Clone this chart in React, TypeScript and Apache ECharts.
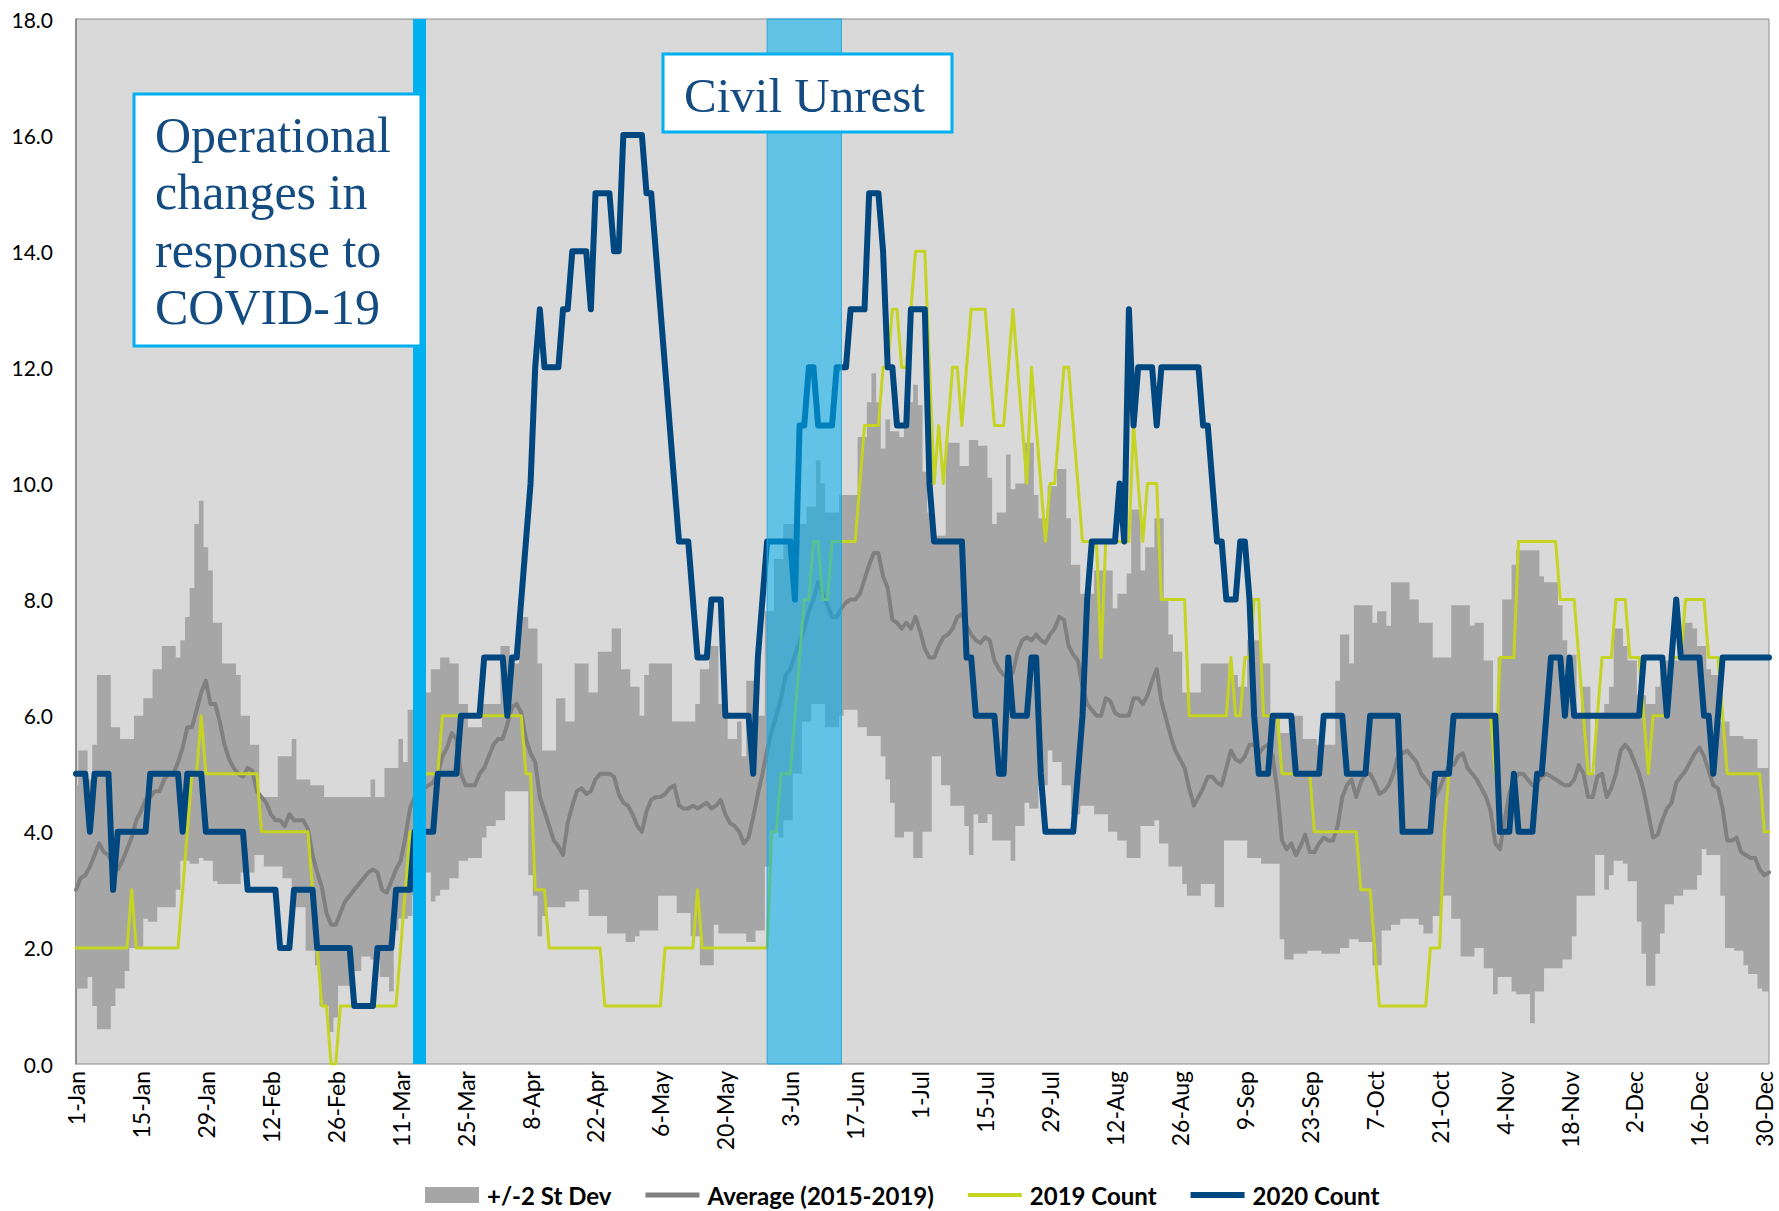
import React, { useEffect, useRef } from "react";
import * as echarts from "echarts";

// ---- categories (2020, daily) ----
const MONTHS = ["Jan", "Feb", "Mar", "Apr", "May", "Jun", "Jul", "Aug", "Sep", "Oct", "Nov", "Dec"];
const MONTH_DAYS_2020 = [31, 29, 31, 30, 31, 30, 31, 31, 30, 31, 30, 31];
const DATES: string[] = MONTHS.flatMap((m, i) =>
  Array.from({ length: MONTH_DAYS_2020[i] }, (_, k) => `${k + 1}-${m}`)
);
const N = DATES.length;

// ---- series values as [first day index, value] runs (daily step counts) ----
const COUNT_2020_RUNS = [
  [0, 5], [3, 4], [4, 5], [8, 3], [9, 4], [16, 5], [23, 4], [24, 5], [28, 4], [37, 3], [44, 2], [47, 3],
  [52, 2], [60, 1], [65, 2], [69, 3], [73, 4], [78, 5], [83, 6], [88, 7], [93, 6], [94, 7], [96, 8],
  [97, 9], [98, 10], [99, 12], [100, 13], [101, 12], [105, 13], [107, 14], [111, 13], [112, 15],
  [116, 14], [118, 16], [123, 15], [125, 14], [126, 13], [127, 12], [128, 11], [129, 10], [130, 9],
  [133, 8], [134, 7], [137, 8], [140, 6], [146, 5], [147, 7], [148, 8], [149, 9], [155, 8], [156, 11],
  [158, 12], [160, 11], [164, 12], [167, 13], [171, 15], [174, 14], [175, 12], [177, 11], [180, 13],
  [184, 10], [185, 9], [192, 7], [194, 6], [199, 5], [201, 7], [202, 6], [206, 7], [208, 5], [209, 4],
  [216, 5], [217, 6], [218, 8], [219, 9], [225, 10], [226, 9], [227, 13], [228, 11], [229, 12],
  [233, 11], [234, 12], [243, 11], [245, 10], [246, 9], [248, 8], [251, 9], [253, 8], [254, 6],
  [255, 5], [258, 6], [263, 5], [269, 6], [274, 5], [279, 6], [286, 4], [293, 5], [297, 6], [307, 4],
  [310, 5], [311, 4], [315, 5], [317, 6], [318, 7], [321, 6], [322, 7], [323, 6], [338, 7], [343, 6],
  [344, 7], [345, 8], [346, 7], [351, 6], [353, 5], [354, 6], [355, 7],
];

const COUNT_2019_RUNS = [
  [0, 2], [12, 3], [13, 2], [23, 3], [24, 4], [25, 5], [27, 6], [28, 5], [40, 4], [51, 3], [52, 2],
  [53, 1], [55, 0], [57, 1], [70, 2], [71, 3], [72, 4], [74, 5], [79, 6], [97, 5], [99, 3], [102, 2],
  [114, 1], [127, 2], [134, 3], [135, 2], [150, 4], [152, 5], [155, 6], [156, 7], [157, 8], [159, 9],
  [161, 8], [163, 9], [169, 10], [170, 11], [174, 12], [176, 13], [178, 12], [180, 13], [181, 14],
  [184, 12], [185, 10], [186, 11], [187, 10], [188, 11], [189, 12], [191, 11], [192, 12], [193, 13],
  [197, 12], [198, 11], [201, 12], [202, 13], [203, 12], [204, 11], [205, 10], [206, 12], [207, 11],
  [208, 10], [209, 9], [210, 10], [212, 11], [213, 12], [215, 11], [216, 10], [217, 9], [221, 7],
  [222, 9], [228, 11], [229, 10], [230, 9], [231, 10], [234, 8], [240, 6], [249, 7], [250, 6],
  [252, 7], [254, 8], [256, 6], [260, 5], [267, 4], [277, 3], [280, 2], [281, 1], [292, 2], [295, 4],
  [296, 5], [297, 6], [306, 5], [307, 7], [311, 9], [320, 8], [324, 7], [325, 6], [326, 5], [328, 6],
  [329, 7], [332, 8], [335, 7], [338, 6], [339, 5], [340, 6], [344, 7], [347, 8], [352, 7], [355, 6],
  [356, 5], [364, 4],
];

// +/-2 St Dev band edges, [first day index, value] runs
const UPPER_RUNS = [
  [0, 4.8], [1, 5.4], [3, 4.9], [4, 5.5], [5, 6.7], [8, 5.8], [10, 5.6], [13, 6.0], [15, 6.3], [17, 6.8],
  [19, 7.2], [22, 7.0], [23, 7.3], [24, 7.7], [25, 8.2], [26, 9.3], [27, 9.7], [28, 8.9], [29, 8.5],
  [30, 7.6], [32, 6.9], [35, 6.7], [36, 6.0], [38, 5.5], [40, 4.6], [44, 5.3], [47, 5.6], [48, 4.9],
  [51, 4.8], [54, 4.6], [64, 4.9], [65, 4.6], [67, 5.1], [70, 5.6], [71, 5.2], [72, 6.1], [74, 6.3],
  [75, 6.4], [77, 6.8], [79, 7.0], [81, 6.9], [83, 6.2], [85, 5.8], [88, 6.2], [92, 7.2], [94, 6.9],
  [96, 7.7], [98, 7.5], [100, 6.9], [101, 5.4], [104, 6.3], [106, 5.9], [108, 6.9], [111, 6.4],
  [113, 7.1], [116, 7.5], [118, 6.8], [120, 6.5], [122, 6.0], [123, 6.7], [124, 6.9], [129, 5.9],
  [134, 6.2], [135, 6.8], [137, 7.2], [139, 6.2], [141, 5.6], [143, 5.9], [144, 5.3], [145, 6.6],
  [147, 6.0], [149, 7.8], [151, 8.7], [153, 9.3], [158, 9.6], [160, 10.4], [161, 10.0], [162, 9.5],
  [165, 9.8], [169, 10.8], [171, 11.4], [172, 11.9], [173, 11.4], [174, 10.6], [175, 11.1], [176, 10.9],
  [178, 10.8], [179, 11.4], [181, 11.7], [182, 11.35], [183, 10.2], [184, 9.5], [185, 9.1], [188, 10.7],
  [191, 10.3], [193, 10.75], [195, 10.65], [197, 10.1], [198, 9.3], [199, 9.5], [201, 10.5], [202, 9.9],
  [203, 10.0], [205, 10.7], [207, 9.8], [208, 9.4], [210, 9.95], [212, 10.25], [214, 9.4], [215, 8.6],
  [217, 8.1], [220, 8.5], [224, 7.85], [225, 8.1], [227, 8.45], [228, 9.55], [230, 8.5], [231, 8.9],
  [233, 9.4], [235, 8.0], [236, 7.4], [237, 7.1], [239, 6.4], [243, 6.9], [249, 6.7], [251, 6.5],
  [253, 7.3], [256, 6.9], [258, 6.0], [260, 5.7], [262, 6.0], [265, 5.6], [268, 5.5], [272, 6.6],
  [273, 7.4], [275, 6.9], [276, 7.9], [280, 7.6], [281, 7.8], [283, 7.55], [284, 8.3], [288, 8.0],
  [290, 7.6], [293, 7.0], [297, 7.9], [301, 7.55], [302, 7.6], [304, 6.95], [306, 6.0], [307, 7.0],
  [308, 8.0], [310, 8.6], [311, 8.85], [316, 8.4], [317, 8.3], [320, 7.9], [321, 7.3], [322, 7.05],
  [324, 6.0], [325, 6.5], [327, 5.0], [328, 6.05], [330, 6.2], [331, 6.5], [332, 7.5], [334, 7.2],
  [335, 6.95], [337, 6.35], [339, 6.2], [341, 6.5], [342, 6.95], [346, 7.25], [347, 7.6], [349, 7.5],
  [350, 7.2], [352, 6.8], [353, 6.7], [355, 5.9], [357, 5.65], [360, 5.6], [363, 5.1],
];

const LOWER_RUNS = [
  [0, 1.3], [3, 1.5], [4, 1.0], [5, 0.6], [8, 1.0], [9, 1.3], [11, 1.6], [12, 2.0], [15, 2.5], [16, 2.45],
  [18, 2.7], [22, 3.0], [23, 3.5], [25, 3.45], [27, 3.55], [28, 3.5], [30, 3.15], [31, 3.1], [36, 3.3],
  [39, 3.6], [41, 3.4], [45, 3.2], [47, 2.7], [50, 1.95], [52, 1.7], [53, 1.0], [55, 0.55], [56, 0.8],
  [57, 1.35], [60, 1.6], [62, 1.85], [64, 1.8], [66, 1.5], [68, 1.25], [69, 2.3], [70, 2.5], [72, 2.55],
  [73, 2.9], [75, 3.3], [77, 2.8], [78, 2.9], [79, 3.0], [81, 3.2], [83, 3.5], [85, 3.55], [88, 3.9],
  [89, 4.1], [91, 4.2], [93, 4.7], [98, 3.25], [99, 2.9], [100, 2.2], [101, 2.55], [102, 2.7], [106, 2.8],
  [109, 3.0], [111, 2.55], [115, 2.25], [119, 2.1], [121, 2.2], [122, 2.3], [126, 2.9], [130, 2.6],
  [133, 2.2], [135, 1.7], [138, 2.4], [139, 2.25], [145, 2.1], [147, 2.3], [149, 3.4], [150, 4.0],
  [152, 3.9], [153, 4.2], [155, 5.0], [157, 5.9], [159, 6.2], [162, 5.8], [165, 6.0], [166, 6.1],
  [169, 5.8], [171, 5.65], [174, 5.3], [175, 4.9], [176, 4.5], [177, 3.9], [179, 4.0], [181, 3.55],
  [183, 4.0], [185, 5.3], [187, 4.8], [189, 4.45], [192, 4.1], [193, 3.6], [194, 4.3], [195, 4.15],
  [197, 4.3], [198, 3.85], [202, 3.5], [203, 4.1], [205, 4.5], [206, 4.4], [208, 4.8], [210, 5.4],
  [211, 5.2], [213, 4.8], [215, 4.3], [217, 4.45], [220, 4.3], [223, 4.0], [225, 3.85], [227, 3.55],
  [230, 4.1], [233, 4.2], [234, 3.8], [236, 3.4], [239, 3.1], [240, 2.9], [243, 3.1], [246, 2.7],
  [248, 3.85], [253, 3.55], [256, 3.45], [260, 2.15], [261, 1.8], [263, 1.9], [266, 1.95], [269, 1.9],
  [273, 2.0], [275, 2.15], [277, 2.1], [280, 1.7], [282, 2.3], [284, 2.4], [286, 2.5], [290, 2.4],
  [291, 2.25], [293, 2.55], [295, 2.9], [297, 2.5], [299, 1.85], [302, 2.0], [304, 1.65], [306, 1.2],
  [307, 1.5], [310, 1.25], [311, 1.2], [314, 0.7], [315, 1.25], [317, 1.65], [321, 1.8], [323, 2.2],
  [324, 2.9], [328, 3.6], [330, 3.0], [331, 3.25], [332, 3.5], [334, 3.45], [335, 3.15], [337, 2.45],
  [338, 1.9], [339, 1.35], [341, 1.9], [342, 2.25], [343, 2.75], [345, 2.9], [347, 3.0], [350, 3.25],
  [351, 3.7], [352, 3.6], [355, 2.9], [356, 2.0], [358, 1.95], [360, 1.7], [361, 1.55], [363, 1.3],
  [364, 1.25],
];

// Average (2015-2019), one value per day
const AVERAGE = [
  3.0, 3.2, 3.25, 3.4, 3.6, 3.8, 3.65, 3.6, 3.4, 3.35,
  3.5, 3.7, 3.9, 4.2, 4.35, 4.55, 4.6, 4.7, 4.7, 4.9,
  5.0, 5.0, 5.2, 5.45, 5.8, 5.8, 6.1, 6.4, 6.6, 6.2,
  6.2, 5.9, 5.5, 5.25, 5.1, 5.0, 4.95, 5.1, 5.05, 4.7,
  4.6, 4.5, 4.3, 4.2, 4.2, 4.1, 4.3, 4.2, 4.2, 4.2,
  4.05, 3.6, 3.3, 3.05, 2.6, 2.4, 2.4, 2.6, 2.8, 2.9,
  3.0, 3.1, 3.2, 3.3, 3.35, 3.3, 3.0, 2.95, 3.15, 3.35,
  3.5, 3.9, 4.4, 4.6, 4.7, 4.75, 4.8, 4.85, 5.0, 5.3,
  5.45, 5.7, 5.6, 5.0, 4.8, 4.8, 4.8, 5.0, 5.1, 5.3,
  5.5, 5.6, 5.6, 5.85, 6.15, 6.2, 6.05, 5.6, 5.35, 5.2,
  4.6, 4.35, 4.1, 3.85, 3.75, 3.6, 4.15, 4.45, 4.7, 4.75,
  4.65, 4.7, 4.9, 5.0, 5.0, 5.0, 4.95, 4.65, 4.5, 4.45,
  4.3, 4.1, 4.0, 4.35, 4.55, 4.6, 4.6, 4.65, 4.75, 4.8,
  4.45, 4.4, 4.4, 4.45, 4.4, 4.45, 4.5, 4.4, 4.45, 4.55,
  4.3, 4.15, 4.1, 4.0, 3.8, 3.9, 4.25, 4.65, 5.0, 5.4,
  5.75, 6.0, 6.3, 6.7, 6.8, 7.05, 7.25, 7.5, 7.8, 8.0,
  8.3, 8.1, 7.9, 7.7, 7.7, 7.85, 7.95, 8.0, 8.0, 8.1,
  8.35, 8.6, 8.8, 8.8, 8.4, 8.2, 7.65, 7.6, 7.5, 7.6,
  7.5, 7.7, 7.45, 7.15, 7.0, 7.0, 7.2, 7.35, 7.4, 7.5,
  7.7, 7.75, 7.55, 7.4, 7.3, 7.25, 7.35, 7.3, 6.95, 6.8,
  6.7, 6.65, 6.75, 7.1, 7.3, 7.35, 7.3, 7.4, 7.3, 7.25,
  7.4, 7.5, 7.7, 7.65, 7.2, 7.05, 6.95, 6.5, 6.2, 6.1,
  6.0, 6.0, 6.3, 6.25, 6.05, 6.0, 6.0, 6.0, 6.3, 6.3,
  6.2, 6.35, 6.6, 6.8, 6.25, 5.95, 5.65, 5.4, 5.25, 5.1,
  4.75, 4.45, 4.6, 4.75, 4.95, 4.95, 4.85, 4.8, 5.1, 5.4,
  5.25, 5.2, 5.3, 5.5, 5.5, 5.35, 5.45, 5.5, 5.3, 4.7,
  3.85, 3.7, 3.8, 3.6, 3.75, 3.95, 3.65, 3.65, 3.8, 3.9,
  3.85, 3.85, 4.1, 4.6, 4.8, 4.9, 4.6, 4.85, 5.0, 5.0,
  4.85, 4.65, 4.7, 4.8, 5.0, 5.3, 5.35, 5.4, 5.3, 5.2,
  5.0, 4.9, 4.8, 4.6, 4.75, 4.95, 5.15, 5.15, 5.3, 5.35,
  5.1, 5.0, 4.9, 4.75, 4.6, 4.35, 3.8, 3.7, 4.2, 4.65,
  4.9, 5.0, 5.0, 4.9, 4.8, 4.85, 4.95, 5.0, 4.95, 4.9,
  4.85, 4.8, 4.8, 4.9, 5.15, 5.0, 4.6, 4.6, 4.95, 5.0,
  4.6, 4.75, 5.0, 5.4, 5.5, 5.4, 5.2, 5.0, 4.7, 4.3,
  3.9, 3.95, 4.2, 4.4, 4.5, 4.85, 4.95, 5.05, 5.2, 5.35,
  5.45, 5.3, 5.05, 4.8, 4.75, 4.4, 3.85, 3.85, 3.9, 3.65,
  3.6, 3.55, 3.55, 3.35, 3.25, 3.3,
];

// annotations (category names)
const COVID_CHANGE_DAY = "15-Mar";
const UNREST_START = "29-May";
const UNREST_END = "14-Jun";

const Y_MIN = 0;
const Y_MAX = 18;
const Y_STEP = 2;

const LEGEND_NAMES = ["+/-2 St Dev", "Average (2015-2019)", "2019 Count", "2020 Count"];

function expandRuns(runs: number[][], n: number): number[] {
  const out: number[] = [];
  runs.forEach(([start, value], i) => {
    const end = i + 1 < runs.length ? runs[i + 1][0] : n;
    for (let d = start; d < end; d++) out.push(value);
  });
  return out;
}

const SANS = 'Lato, "Liberation Sans", sans-serif';
const SERIF = '"Liberation Serif", "DejaVu Serif", serif';
const NAVY_TEXT = "#144b80";

export default function App() {
  const ref = useRef<HTMLDivElement>(null);

  useEffect(() => {
    if (!ref.current) return;
    const chart = echarts.init(ref.current, undefined, { renderer: "svg" });

    const count2020 = expandRuns(COUNT_2020_RUNS, N);
    const count2019 = expandRuns(COUNT_2019_RUNS, N);
    const upper = expandRuns(UPPER_RUNS, N);
    const lower = expandRuns(LOWER_RUNS, N);
    const bandHeight = upper.map((u, i) => +(u - lower[i]).toFixed(2));

    const IW = 54;
    const lineIcon = (h: number) =>
      `path://M0,0M${IW},16M0,${8 - h / 2}L${IW},${8 - h / 2}L${IW},${8 + h / 2}L0,${8 + h / 2}Z`;

    chart.setOption({
      animation: false,
      backgroundColor: "#ffffff",
      grid: {
        left: 76,
        right: 10,
        top: 19,
        bottom: 147,
        show: true,
        backgroundColor: "#d9d9d9",
        borderColor: "#8c8c8c",
        borderWidth: 1,
      },
      xAxis: {
        type: "category",
        data: DATES,
        boundaryGap: false,
        axisLine: { show: false },
        axisTick: { show: false },
        splitLine: { show: false },
        axisLabel: {
          interval: 13,
          rotate: 90,
          margin: 7,
          color: "#000",
          fontFamily: SANS,
          fontSize: 23,
          lineHeight: 20,
        },
      },
      yAxis: {
        type: "value",
        min: Y_MIN,
        max: Y_MAX,
        interval: Y_STEP,
        axisLine: { show: true, lineStyle: { color: "#7f7f7f", width: 1.5 } },
        axisTick: { show: false },
        splitLine: { show: false },
        axisLabel: {
          margin: 23,
          color: "#000",
          fontFamily: SANS,
          fontSize: 21,
          formatter: (v: number) => v.toFixed(1),
        },
      },
      legend: {
        left: 425,
        top: 1182,
        padding: 0,
        itemWidth: IW,
        itemHeight: 16,
        itemGap: 34,
        selectedMode: false,
        textStyle: {
          color: "#000",
          fontFamily: SANS,
          fontSize: 24,
          fontWeight: "bold",
          lineHeight: 26,
          padding: [0, 0, 0, 3],
        },
        data: [
          { name: LEGEND_NAMES[0], icon: "rect", itemStyle: { color: "#a6a6a6", borderWidth: 0 } },
          { name: LEGEND_NAMES[1], icon: lineIcon(5), itemStyle: { color: "#808080", borderWidth: 0 } },
          { name: LEGEND_NAMES[2], icon: lineIcon(4), itemStyle: { color: "#c5d321", borderWidth: 0 } },
          { name: LEGEND_NAMES[3], icon: lineIcon(6), itemStyle: { color: "#00467f", borderWidth: 0 } },
        ],
      },
      series: [
        {
          name: "band-base",
          type: "line",
          data: lower,
          stack: "band",
          step: "middle",
          symbol: "none",
          silent: true,
          lineStyle: { opacity: 0, width: 0 },
          z: 1,
        },
        {
          name: LEGEND_NAMES[0],
          type: "line",
          data: bandHeight,
          stack: "band",
          step: "middle",
          symbol: "none",
          silent: true,
          color: "#a6a6a6",
          lineStyle: { opacity: 0, width: 0 },
          areaStyle: { color: "#a6a6a6", opacity: 1 },
          z: 1,
        },
        {
          name: LEGEND_NAMES[1],
          type: "line",
          data: AVERAGE,
          symbol: "none",
          silent: true,
          color: "#808080",
          lineStyle: { color: "#808080", width: 4, join: "round", cap: "round" },
          z: 3,
        },
        {
          name: LEGEND_NAMES[2],
          type: "line",
          data: count2019,
          symbol: "none",
          silent: true,
          color: "#c5d321",
          lineStyle: { color: "#c5d321", width: 3, join: "round", cap: "round" },
          z: 4,
        },
        {
          name: LEGEND_NAMES[3],
          type: "line",
          data: count2020,
          symbol: "none",
          silent: true,
          color: "#00467f",
          lineStyle: { color: "#00467f", width: 6, join: "round", cap: "round" },
          z: 5,
          markArea: {
            silent: true,
            z: 10,
            itemStyle: { color: "rgba(0,176,240,0.55)", borderColor: "#2aa7de", borderWidth: 1 },
            label: { show: false },
            data: [[{ xAxis: UNREST_START }, { xAxis: UNREST_END }]],
          },
          markLine: {
            silent: true,
            z: 11,
            symbol: ["none", "none"],
            label: { show: false },
            lineStyle: { color: "#00b0f0", width: 13, type: "solid" },
            data: [{ xAxis: COVID_CHANGE_DAY }],
          },
        },
      ],
      graphic: [
        {
          type: "rect",
          z: 100,
          shape: { x: 134, y: 94, width: 287, height: 252 },
          style: { fill: "#ffffff", stroke: "#00b0f0", lineWidth: 3 },
        },
        ...["Operational", "changes in", "response to", "COVID-19"].map((t, i) => ({
          type: "text",
          z: 101,
          x: 155,
          y: 135 + i * 57.3,
          style: {
            text: t,
            fill: NAVY_TEXT,
            fontFamily: SERIF,
            fontSize: 50,
            align: "left",
            verticalAlign: "middle",
          },
        })),
        {
          type: "rect",
          z: 100,
          shape: { x: 663, y: 54, width: 289, height: 78 },
          style: { fill: "#ffffff", stroke: "#00b0f0", lineWidth: 3 },
        },
        {
          type: "text",
          z: 101,
          x: 684,
          y: 95,
          style: {
            text: "Civil Unrest",
            fill: NAVY_TEXT,
            fontFamily: SERIF,
            fontSize: 49,
            align: "left",
            verticalAlign: "middle",
          },
        },
      ],
    });

    return () => chart.dispose();
  }, []);

  return (
    <div
      ref={ref}
      style={{ position: "absolute", left: 0, top: 0, width: 1779, height: 1211, background: "#fff" }}
    />
  );
}
